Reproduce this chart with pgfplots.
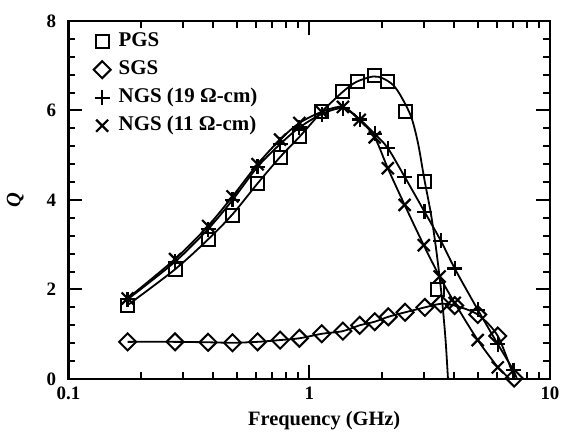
\documentclass[border=0pt]{standalone}
\usepackage{pgfplots}
\pgfplotsset{compat=1.18}
\usepackage{fontspec}
\setmainfont{Liberation Serif}

% Q-factor of spiral inductors on different ground shields
\pgfplotstableread{
f      q
0.176  1.65
0.277  2.45
0.38   3.12
0.48   3.66
0.61   4.37
0.757  4.96
0.91   5.41
1.127  5.97
1.38   6.42
1.594  6.64
1.87   6.79
2.12   6.64
2.51   5.97
3.01   4.41
3.42   1.99
}\pgs
\pgfplotstableread{
f      q
0.176  1.65
0.277  2.45
0.38   3.12
0.48   3.68
0.61   4.37
0.757  4.96
0.91   5.41
1.127  5.97
1.38   6.42
1.57   6.64
1.84   6.76
2.02   6.72
2.23   6.57
2.41   6.31
2.65   5.86
2.83   5.27
3.01   4.45
3.20   3.70
3.37   2.88
3.54   1.91
3.68   0.90
3.77   0.00
}\pgsfit
\pgfplotstableread{
f      q
0.176  0.83
0.277  0.83
0.38   0.82
0.48   0.81
0.61   0.83
0.757  0.87
0.91   0.91
1.127  1.01
1.38   1.07
1.62   1.20
1.87   1.28
2.13   1.39
2.50   1.49
3.02   1.60
3.52   1.68
4.02   1.64
5.01   1.44
6.07   0.96
7.10   0.02
}\sgs
\pgfplotstableread{
f      q
0.176  1.78
0.277  2.62
0.38   3.35
0.48   4.00
0.61   4.74
0.757  5.25
0.91   5.62
1.127  5.92
1.38   6.05
1.62   5.80
1.87   5.48
2.12   5.16
2.49   4.52
3.01   3.74
3.52   3.09
4.02   2.47
5.01   1.55
6.07   0.78
7.05   0.20
}\ngsa
\pgfplotstableread{
f      q
0.176  1.80
0.277  2.68
0.38   3.42
0.48   4.08
0.61   4.80
0.757  5.35
0.91   5.72
1.127  5.97
1.38   6.08
1.62   5.79
1.87   5.40
2.12   4.71
2.49   3.89
2.99   2.99
3.48   2.29
4.02   1.70
5.01   0.87
6.07   0.26
}\ngsb

\begin{document}
\begin{tikzpicture}
\begin{axis}[
  at={(0,0)}, anchor=south west,
  scale only axis,
  width=481.5bp, height=358bp,
  xmode=log,
  xmin=0.1, xmax=10,
  ymin=0, ymax=8,
  xtick={0.1,1,10},
  xticklabels={0.1,1,10},
  ytick={0,2,4,6,8},
  minor y tick num=4,
  clip=false,
  tick align=inside,
  major tick length=14bp,
  minor tick length=7bp,
  every tick/.style={black, line width=2bp},
  axis line style={line width=2.8bp},
  /pgf/number format/assume math mode=true,
  tick label style={font=\fontsize{19}{22}\selectfont\bfseries},
  xticklabel style={yshift=-4bp},
  yticklabel style={xshift=-9bp},
  label style={font=\fontsize{20.5}{24}\selectfont\bfseries},
  xlabel={Frequency (GHz)},
  xlabel style={at={(axis description cs:0.531,0)}, anchor=north, yshift=-29bp},
  ylabel={\itshape Q},
  ylabel style={yshift=16bp},
  legend style={draw=none, fill=none,
    at={(axis description cs:0,1)}, anchor=north west,
    xshift=22bp, yshift=-9bp,
    row sep=9bp,
    nodes={inner ysep=1bp, inner xsep=8bp, text height=13bp, text depth=4bp},
    font=\fontsize{21}{24}\selectfont\bfseries},
  legend cell align=left,
]
% fitted curves
\addplot[black, line width=1.8bp, smooth, forget plot] table[x=f,y=q] {\pgsfit};
\addplot[black, line width=1.8bp, smooth, forget plot] table[x=f,y=q] {\sgs};
\addplot[black, line width=1.8bp, smooth, forget plot] table[x=f,y=q] {\ngsa} -- (axis cs:7.3,0);
\addplot[black, line width=1.8bp, smooth, forget plot] table[x=f,y=q] {\ngsb} -- (axis cs:6.8,0);
% measured points
\addplot[only marks, mark=square, mark size=6.5bp,
  mark options={line width=2bp, fill=white, draw=black}] table[x=f,y=q] {\pgs};
\addlegendentry{PGS}
\addplot[only marks, mark=square, mark size=6bp,
  mark options={line width=2bp, fill=white, draw=black, rotate=45}] table[x=f,y=q] {\sgs};
\addlegendentry{SGS}
\addplot[only marks, mark=+, mark size=7.5bp,
  mark options={line width=2.2bp, draw=black}] table[x=f,y=q] {\ngsa};
\addlegendentry{NGS (19 Ω-cm)}
\addplot[only marks, mark=x, mark size=8.5bp,
  mark options={line width=2.2bp, draw=black}] table[x=f,y=q] {\ngsb};
\addlegendentry{NGS (11 Ω-cm)}
\end{axis}
\pgfresetboundingbox
\path (-68.5bp,-60bp) rectangle (492.5bp,379bp);
\end{tikzpicture}
\end{document}
